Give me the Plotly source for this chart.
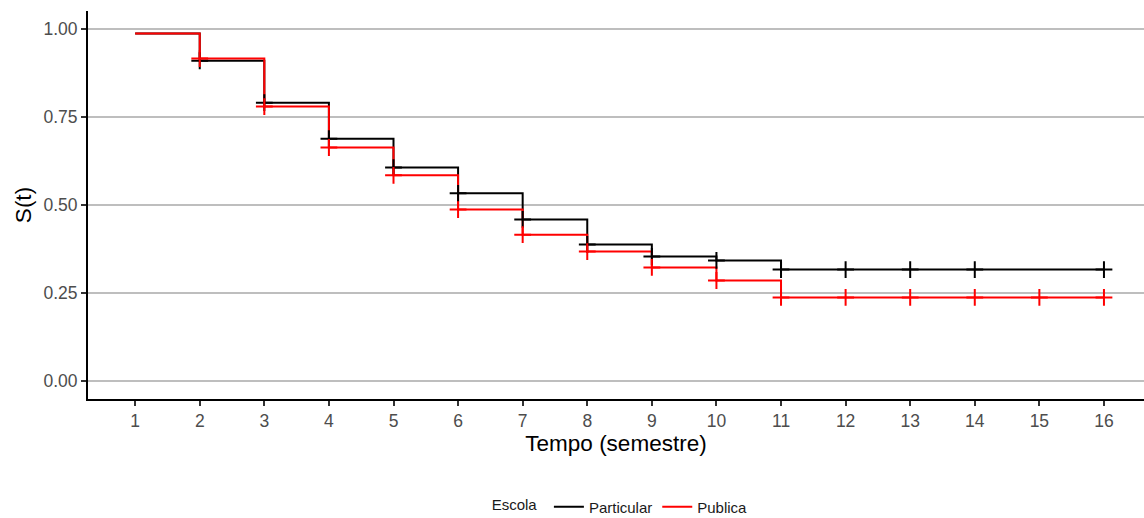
import plotly.graph_objects as go

# Kaplan-Meier survival estimates by school type
times = [1, 2, 3, 4, 5, 6, 7, 8, 9, 10, 11, 16]
surv_particular = [0.986, 0.909, 0.790, 0.688, 0.606, 0.533, 0.459, 0.388, 0.354, 0.343, 0.317, 0.317]
surv_publica = [0.986, 0.915, 0.779, 0.663, 0.584, 0.487, 0.416, 0.368, 0.323, 0.286, 0.238, 0.238]

# censoring times
cens_particular = [2, 3, 4, 5, 6, 7, 8, 9, 10, 11, 12, 13, 14, 16]
cens_publica = [2, 3, 4, 5, 6, 7, 8, 9, 10, 11, 12, 13, 14, 15, 16]

x_ticks = list(range(1, 17))
y_ticks = [0.00, 0.25, 0.50, 0.75, 1.00]
y_tick_text = ["0.00", "0.25", "0.50", "0.75", "1.00"]


def surv_at(t, ts, ss):
    val = ss[0]
    for ti, si in zip(ts, ss):
        if ti <= t:
            val = si
    return val


groups = [
    ("Particular", surv_particular, cens_particular, "#000000"),
    ("Publica", surv_publica, cens_publica, "#FF0000"),
]

fig = go.Figure()
for name, surv, cens, color in groups:
    fig.add_trace(go.Scatter(
        x=times, y=surv, mode="lines", line_shape="hv",
        line=dict(color=color, width=2), name=name,
    ))
for name, surv, cens, color in groups:
    fig.add_trace(go.Scatter(
        x=cens, y=[surv_at(t, times, surv) for t in cens], mode="markers",
        marker=dict(symbol="cross-thin", size=12, line=dict(color=color, width=2)),
        showlegend=False, hoverinfo="skip",
    ))

font = "Liberation Sans, Arial, sans-serif"
fig.update_layout(
    width=1144, height=518,
    margin=dict(l=88, r=0, t=11, b=119, autoexpand=False),
    paper_bgcolor="white", plot_bgcolor="white",
    font=dict(family=font, color="#4D4D4D"),
    showlegend=True,
    legend=dict(
        orientation="h", xref="container", x=0.543, xanchor="center",
        yref="container", y=0.021, yanchor="middle",
        title=dict(text="Escola ", font=dict(size=15, color="#1A1A1A")),
        font=dict(size=15, color="#1A1A1A"),
        itemwidth=30, tracegroupgap=0, valign="middle",
    ),
    xaxis=dict(
        range=[0.27, 16.62], tickmode="array", tickvals=x_ticks,
        ticks="outside", ticklen=5, tickcolor="#333333", tickwidth=1.5,
        tickfont=dict(size=17.5, color="#4D4D4D"),
        showgrid=False, zeroline=False, automargin=False,
        showline=True, linecolor="#000000", linewidth=2,
        title=dict(text="Tempo (semestre)", font=dict(size=22.5, color="#000000"), standoff=4),
    ),
    yaxis=dict(
        range=[-0.05, 1.05], tickmode="array", tickvals=y_ticks, ticktext=y_tick_text,
        ticks="outside", ticklen=5, tickcolor="#333333", tickwidth=1.5,
        tickfont=dict(size=17.5, color="#4D4D4D"),
        showgrid=True, gridcolor="#BEBEBE", gridwidth=1.5, zeroline=False, automargin=False,
        showline=True, linecolor="#000000", linewidth=2,
        title=dict(text="S(t)", font=dict(size=22.5, color="#000000"), standoff=6),
    ),
)

fig.write_html("out.html")
